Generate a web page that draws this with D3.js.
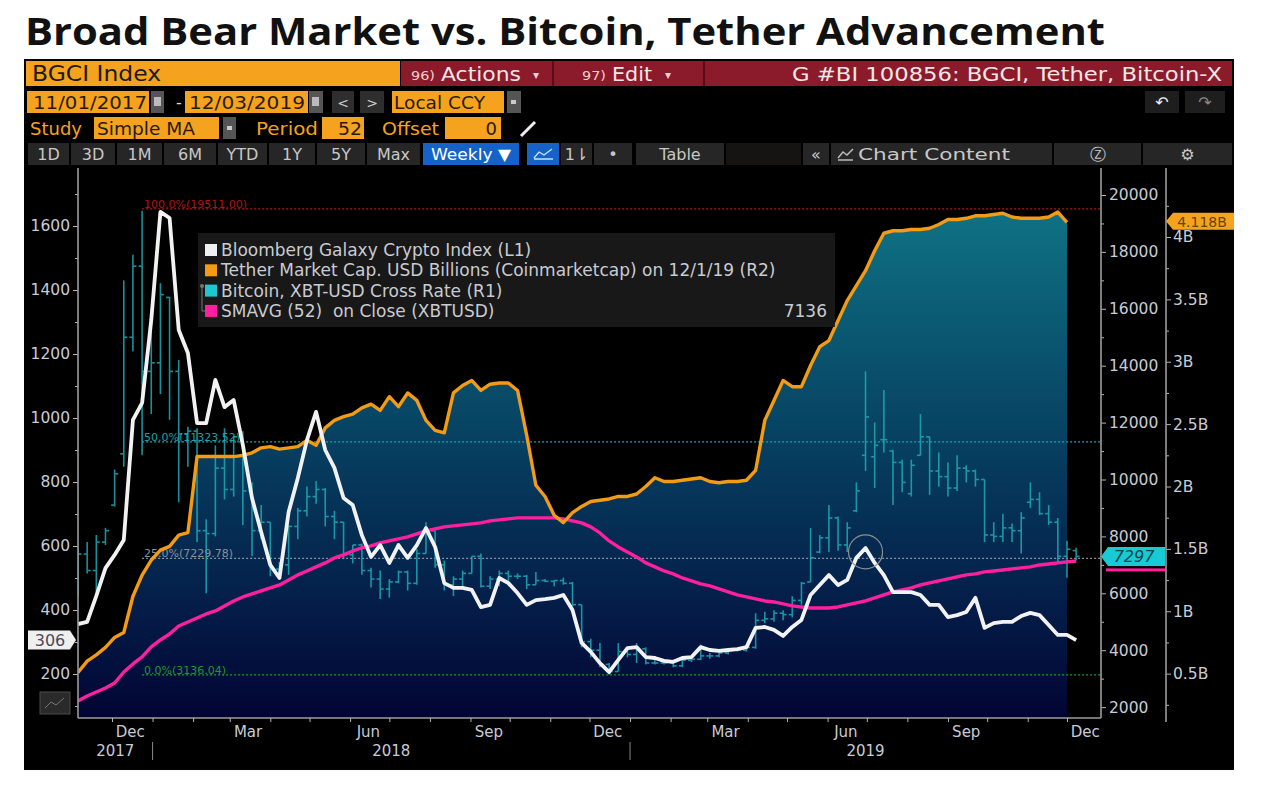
<!DOCTYPE html>
<html><head><meta charset="utf-8">
<script src="https://cdn.jsdelivr.net/npm/d3@7"></script>
<style>body{margin:0;background:#fff;}svg{display:block;}text{white-space:pre;}</style>
</head><body><svg id="c" width="1279" height="799"></svg>
<script>
// ---------------- DATA ----------------
const titleText = "Broad Bear Market vs. Bitcoin, Tether Advancement";
const firstWeek = "2017-11-05";           // weekly observations, one per week
const bgci = [356,363,444,531,572,619,994,1047,1306,1644,1625,1275,1203,984,984,1119,1034,1056,916,750,
  644,541,500,706,812,931,1019,900,844,750,728,634,566,603,547,603,563,603,656,597,
  484,469,469,463,409,416,500,484,453,416,431,434,438,447,400,297,269,234,206,244,
  281,284,253,250,241,238,250,253,284,275,272,275,278,284,344,347,338,319,347,369,
  447,478,509,478,494,563,594,547,509,456,456,456,447,416,416,378,384,394,438,344,
  359,363,363,381,391,384,353,322,322,306];
const tether = [0.51,0.60,0.65,0.71,0.79,0.83,1.12,1.29,1.41,1.49,1.52,1.61,1.63,2.24,2.24,2.24,2.24,2.24,2.25,2.27,
  2.31,2.32,2.30,2.31,2.32,2.37,2.33,2.47,2.53,2.56,2.58,2.63,2.66,2.61,2.72,2.64,2.75,2.69,2.53,2.45,
  2.43,2.75,2.81,2.85,2.77,2.82,2.83,2.83,2.77,2.41,2.01,1.92,1.77,1.71,1.79,1.84,1.88,1.89,1.90,1.92,
  1.92,1.94,2.00,2.07,2.04,2.04,2.05,2.06,2.07,2.04,2.03,2.04,2.04,2.05,2.13,2.53,2.69,2.85,2.80,2.80,
  2.97,3.12,3.17,3.33,3.49,3.61,3.73,3.89,4.03,4.05,4.05,4.06,4.06,4.07,4.10,4.14,4.14,4.15,4.17,4.17,
  4.18,4.19,4.16,4.15,4.15,4.15,4.16,4.20,4.118];
const btcOpen = [6130,7380,6800,7800,9100,10900,15000,17500,13800,14100,16400,13800,11600,11700,8200,8100,10400,9650,11500,9600,
  8200,8500,6850,7000,8350,8900,9400,9650,8700,8500,7350,7700,6800,6500,6150,6400,6750,6350,7400,8200,
  7000,6300,6500,6700,7300,6250,6500,6700,6600,6600,6300,6450,6420,6450,6350,5600,4300,4000,3500,3250,
  3950,3850,4050,3550,3550,3550,3450,3650,3680,3800,3800,3900,4000,4000,4100,5050,5100,5300,5250,5750,
  6400,7450,7950,8650,7700,8900,10850,10800,11400,11000,10600,9500,10850,11500,10300,10100,9700,10400,10300,10000,
  8050,8000,8300,8200,9200,9300,8800,8500,7300,7500];
const btcHigh = [7600,7800,8050,8300,10350,17000,17900,19450,16000,16900,16420,14200,11850,11800,8600,11200,11800,11500,11700,9900,
  9100,8500,7100,8400,9000,9750,9950,9700,8900,8500,7700,7750,6900,6800,6500,6800,6800,7550,8500,8200,
  7150,6600,6800,7300,7400,6600,6800,6800,6700,6650,6750,6500,6450,6550,6400,5600,4400,4250,3550,4250,
  4100,4250,4100,3800,3650,3600,3700,3700,4200,3900,3950,4050,4050,4150,5300,5350,5400,5400,5900,6400,
  8300,8050,9100,8700,8500,9900,13800,12000,13150,11050,10700,10700,12300,11500,10950,10600,10850,10500,10350,10000,
  8500,8800,8450,8850,9900,9550,9100,8650,7850,7600];
const btcLow = [5900,6700,6050,7700,9050,10450,14500,10850,12300,13000,12100,9200,10450,7800,6000,8000,9300,9400,8400,7300,
  7900,6600,6500,6650,7900,8700,9150,8350,7900,7200,7050,6650,6200,5800,5850,6350,6100,6300,7400,6900,
  6100,5900,6250,6700,6200,6150,6250,6400,6500,6150,6300,6400,6250,6300,5550,4100,3750,3400,3150,3250,
  3750,3550,3500,3500,3500,3400,3400,3580,3650,3700,3750,3850,3950,3950,4050,4950,5000,5050,5150,5600,
  6400,7400,7450,7500,7450,8850,10300,9700,10950,9100,9550,9400,10850,9460,9750,9400,9600,9900,9750,7800,
  7800,7800,7800,7400,9000,8750,8400,7100,6550,7150];
const btcClose = [7380,6800,7800,8200,10200,15000,17500,13800,14100,16500,13800,11600,11700,8200,8100,10400,9650,11500,9600,8200,
  8500,6850,7000,8350,8900,9400,9650,8700,8500,7350,7700,6800,6500,6150,6400,6750,6350,7400,8200,7000,
  6300,6500,6700,7300,6250,6500,6700,6600,6600,6300,6450,6420,6450,6350,5600,4300,4000,3500,3250,3950,
  3850,4050,3550,3550,3550,3450,3650,3680,3800,3800,3900,4000,4000,4100,5050,5100,5300,5250,5750,6350,
  7250,7950,8650,7700,8300,9600,12200,11200,11400,10600,9900,10500,11500,10300,10100,9700,10400,10300,10000,8050,
  8000,8300,8200,8650,9300,8800,8500,7300,7550,7297];
const sma52 = [2215,2391,2532,2672,2848,3235,3516,3762,4114,4360,4571,4852,4993,5134,5274,5380,5556,5731,5872,5977,
  6083,6188,6294,6470,6646,6786,6927,7068,7243,7349,7489,7595,7665,7771,7841,7911,7982,8087,8193,8263,
  8333,8368,8404,8439,8474,8544,8579,8615,8650,8650,8650,8650,8650,8615,8544,8474,8333,8122,7841,7630,
  7454,7278,7068,6927,6786,6681,6540,6435,6329,6259,6153,6048,5942,5872,5802,5731,5696,5626,5556,5520,
  5485,5485,5485,5520,5591,5661,5731,5837,5942,6048,6118,6188,6294,6364,6435,6505,6575,6646,6681,6751,
  6786,6821,6857,6892,6927,6997,7032,7068,7103,7136];
const fibLevels = [{p:"100.0%", v:19511.00, c:"#b01515"},{p:"50.0%", v:11323.52, c:"#1aa3ad"},
                   {p:"25.0%", v:7229.78, c:"#8a9099"},{p:"0.0%", v:3136.04, c:"#1c9a2c"}];
const fibStartWeek = 7;
const circleWeek = 86;
const leftTicks = [200,400,600,800,1000,1200,1400,1600];
const leftMinor = [100,300,500,700,900,1100,1300,1500,1700];
const r1Ticks = [2000,4000,6000,8000,10000,12000,14000,16000,18000,20000];
const r1Minor = [3000,5000,7000,9000,11000,13000,15000,17000,19000];
const r2Ticks = [0.5,1,1.5,2,2.5,3,3.5,4];
const r2Labels = ["0.5B","1B","1.5B","2B","2.5B","3B","3.5B","4B"];
const r2Minor = [0.25,0.75,1.25,1.75,2.25,2.75,3.25,3.75,4.25];
const quarterMonths = ["2017-12","2018-03","2018-06","2018-09","2018-12","2019-03","2019-06","2019-09","2019-12"];
const monthNames = ["Dec","Mar","Jun","Sep","Dec","Mar","Jun","Sep","Dec"];
const yearLabels = ["2017","2018","2019"];
const legendItems = [
  {t:"Bloomberg Galaxy Crypto Index (L1)", c:"#efefef", v:""},
  {t:"Tether Market Cap. USD Billions (Coinmarketcap) on 12/1/19 (R2)", c:"#f39a16", v:""},
  {t:"Bitcoin, XBT-USD Cross Rate (R1)", c:"#1ec8d0", v:""},
  {t:"SMAVG (52)  on Close (XBTUSD)", c:"#ff1f9f", v:"7136"}];
const lastBgci = 306, lastBtc = 7297, lastTether = 4.118;

// ---------------- SETUP ----------------
const UI = "'DejaVu Sans','Liberation Sans',sans-serif";
const svg = d3.select("#c");
const parse = d3.timeParse("%Y-%m-%d");
const pm = d3.timeParse("%Y-%m");
const d0 = parse(firstWeek);
const dates = bgci.map((_, i) => d3.timeDay.offset(d0, 7 * i));

const PL = 78, PR = 1101, PT = 168, PB = 718, R2X = 1166;
const x = d3.scaleTime().domain([parse("2017-11-05"), parse("2019-12-27")]).range([PL, PR]);
const yL = d3.scaleLinear().domain([0, 1600]).range([738, 226]);
const yR1 = d3.scaleLinear().domain([0, 20000]).range([764, 195]);
const yR2 = d3.scaleLinear().domain([0, 4]).range([736, 237]);

svg.append("rect").attr("width", 1279).attr("height", 799).attr("fill", "#fff");
svg.append("text").attr("x", 25).attr("y", 45).text(titleText)
  .attr("font-family", "'Open Sans',sans-serif").attr("font-weight", 700).attr("font-size", 38)
  .attr("fill", "#111").attr("textLength", 1080).attr("lengthAdjust", "spacingAndGlyphs");
svg.append("rect").attr("x", 24).attr("y", 59).attr("width", 1210).attr("height", 711).attr("fill", "#000");

function box(x0, y0, w, h, fill) { return svg.append("rect").attr("x", x0).attr("y", y0).attr("width", w).attr("height", h).attr("fill", fill); }
function txt(x0, y0, s, size, fill, anchor, len) {
  const t = svg.append("text").attr("x", x0).attr("y", y0).text(s).attr("font-family", UI)
    .attr("font-size", size).attr("fill", fill).attr("text-anchor", anchor || "start");
  if (len) t.attr("textLength", len).attr("lengthAdjust", "spacingAndGlyphs");
  return t;
}
const OR = "#f5a31f", RED = "#8b1a2b", TAB = "#262626", DK = "#2a1a00";

// Row 1
box(26, 61, 374, 25, OR);
txt(32, 81, "BGCI Index", 21, "#1a1a1a", "start", 129);
box(401, 61, 831, 25, RED);
box(552, 61, 2, 25, "#5a0d18"); box(703, 61, 2, 25, "#5a0d18");
txt(411, 80, "96)", 13, "#f0d0d0", "start", 24); txt(441, 81, "Actions", 19, "#f3e6e6", "start", 80); txt(533, 79, "▾", 12, "#f0d0d0");
txt(582, 80, "97)", 13, "#f0d0d0", "start", 24); txt(612, 81, "Edit", 19, "#f3e6e6", "start", 40); txt(665, 79, "▾", 12, "#f0d0d0");
txt(1222, 81, "G #BI 100856: BGCI, Tether, Bitcoin-X", 19, "#f3e6e6", "end", 430);
// Row 2
box(27, 91, 122, 22, OR); txt(33, 109, "11/01/2017", 18, DK, "start", 114);
box(151, 91, 13, 22, "#555"); box(154, 97, 7, 9, "#bbb");
txt(176, 108, "-", 16, "#ddd");
box(185, 91, 123, 22, OR); txt(189, 109, "12/03/2019", 18, DK, "start", 116);
box(309, 91, 14, 22, "#555"); box(312, 97, 7, 9, "#bbb");
box(332, 91, 22, 22, "#2e2e2e"); txt(343, 108, "<", 14, "#ccc", "middle");
box(360, 91, 24, 22, "#2e2e2e"); txt(372, 108, ">", 14, "#ccc", "middle");
box(392, 91, 112, 22, OR); txt(394, 109, "Local CCY", 18, DK, "start", 91);
box(507, 91, 14, 22, "#555"); box(511, 100, 5, 4, "#ccc");
box(1145, 91, 34, 22, "#1e1e1e"); txt(1162, 108, "↶", 16, "#eee", "middle");
box(1185, 91, 40, 22, "#1e1e1e"); txt(1205, 108, "↷", 16, "#888", "middle");
// Row 3
txt(30, 135, "Study", 18, OR, "start", 52);
box(94, 117, 125, 22, OR); txt(97, 135, "Simple MA", 18, DK, "start", 98);
box(223, 117, 13, 22, "#555"); box(227, 126, 5, 4, "#ccc");
txt(256, 135, "Period", 18, OR, "start", 62);
box(322, 117, 42, 22, OR); txt(362, 135, "52", 18, DK, "end", 24);
txt(382, 135, "Offset", 18, OR, "start", 57);
box(445, 117, 56, 22, OR); txt(497, 135, "0", 18, DK, "end");
svg.append("line").attr("x1", 521).attr("y1", 136).attr("x2", 535).attr("y2", 122).attr("stroke", "#eee").attr("stroke-width", 3);
// Row 4 tabs
const tabs = [[28,41,"1D"],[71,44,"3D"],[117,45,"1M"],[164,52,"6M"],[218,49,"YTD"],[269,46,"1Y"],[317,48,"5Y"],[367,53,"Max"],
  [561,31,"1⇂"],[594,38,"•"],[636,88,"Table"],[803,26,"«"],[1054,87,"Ⓩ"],[1143,89,"⚙"]];
tabs.forEach(t => { box(t[0], 143, t[1], 22, TAB); txt(t[0] + t[1] / 2, 160, t[2], 16, "#c8c8c8", "middle"); });
box(726, 143, 75, 22, "#161412");
box(831, 143, 221, 22, TAB); txt(858, 160, "Chart Content", 16, "#c8c8c8", "start", 152);
svg.append("path").attr("d", "M838,158 L843,152 L847,155 L853,149 M838,160 H853").attr("stroke", "#bbb").attr("fill", "none").attr("stroke-width", 1.5);
box(423, 143, 96, 22, "#1563c8"); txt(471, 160, "Weekly ▼", 16, "#fff", "middle", 80);
box(527, 143, 32, 22, "#1563c8");
svg.append("path").attr("d", "M534,158 L539,152 L544,155 L552,149 M534,159 H553").attr("stroke", "#cfe0ff").attr("fill", "none").attr("stroke-width", 1.3);

// ---------------- PLOT ----------------
const defs = svg.append("defs");
defs.append("clipPath").attr("id", "clip").append("rect").attr("x", PL).attr("y", PT).attr("width", PR - PL).attr("height", PB - PT);
const grad = defs.append("linearGradient").attr("id", "ag").attr("gradientUnits", "userSpaceOnUse")
  .attr("x1", 0).attr("x2", 0).attr("y1", 200).attr("y2", PB);
[[0, "#0f7486"], [0.45, "#074262"], [0.75, "#04214b"], [1, "#020433"]].forEach(s =>
  grad.append("stop").attr("offset", s[0]).attr("stop-color", s[1]));

const plot = svg.append("g").attr("clip-path", "url(#clip)");
const tData = tether.map((v, i) => ({ d: dates[i], v }));
plot.append("path").datum(tData).attr("fill", "url(#ag)")
  .attr("d", d3.area().x(p => x(p.d)).y0(PB).y1(p => yR2(p.v)));

// Fibonacci lines
fibLevels.forEach(f => {
  const yy = yR1(f.v);
  plot.append("line").attr("x1", x(dates[fibStartWeek])).attr("x2", PR).attr("y1", yy).attr("y2", yy)
    .attr("stroke", f.c).attr("stroke-width", 1.2).attr("stroke-dasharray", "2,2");
  plot.append("text").attr("x", x(dates[fibStartWeek]) + 2).attr("y", yy - 1)
    .text(`${f.p}(${f.v.toFixed(2)})`).attr("font-family", UI).attr("font-size", 11).attr("fill", f.c);
});

// Bitcoin OHLC bars
const bars = plot.append("g").attr("stroke", "#1eaab5").attr("stroke-width", 1.6).attr("opacity", 0.85);
dates.forEach((d, i) => {
  const cx = x(d);
  bars.append("line").attr("x1", cx).attr("x2", cx).attr("y1", yR1(btcHigh[i])).attr("y2", yR1(btcLow[i]));
  bars.append("line").attr("x1", cx - 3.5).attr("x2", cx).attr("y1", yR1(btcOpen[i])).attr("y2", yR1(btcOpen[i]));
  bars.append("line").attr("x1", cx).attr("x2", cx + 3.5).attr("y1", yR1(btcClose[i])).attr("y2", yR1(btcClose[i]));
});

const lineOf = (arr, ys) => d3.line().x((v, i) => x(dates[i])).y(v => ys(v))(arr);
plot.append("path").attr("d", lineOf(sma52, yR1)).attr("fill", "none").attr("stroke", "#ff1f9f").attr("stroke-width", 3.4).attr("stroke-linejoin", "round");
plot.append("path").attr("d", lineOf(tether, yR2)).attr("fill", "none").attr("stroke", "#f39a16").attr("stroke-width", 3.4).attr("stroke-linejoin", "round");
plot.append("path").attr("d", lineOf(bgci, yL)).attr("fill", "none").attr("stroke", "#f2f2f2").attr("stroke-width", 3.8).attr("stroke-linejoin", "round");
plot.append("circle").attr("cx", x(dates[circleWeek])).attr("cy", yL(bgci[circleWeek]) + 4).attr("r", 17)
  .attr("fill", "none").attr("stroke", "#8f8f8f").attr("stroke-width", 1.2);

// Legend
box(198, 233, 637, 94, "#1b1b1b").attr("opacity", 0.88);
legendItems.forEach((it, k) => {
  const cy = 250 + k * 20.3;
  box(205, cy - 6, 12, 12, it.c);
  txt(221, cy + 6, it.t, 17, "#c9cbd2");
  if (it.v) txt(827, cy + 6, it.v, 17, "#c9cbd2", "end");
});
svg.append("path").attr("d", "M202,287 V311 H205").attr("stroke", "#777").attr("fill", "none");
svg.append("circle").attr("cx", 202).attr("cy", 286).attr("r", 2).attr("fill", "#777");

// ---------------- AXES ----------------
const AX = "#9c9c9c", LBL = "#c8cbd6";
function styleAxis(g) {
  g.select(".domain").remove();
  g.selectAll(".tick line").attr("stroke", "#b5b5b5");
  g.selectAll(".tick text").attr("fill", LBL).attr("font-family", UI).attr("font-size", 15.5);
}
svg.append("g").attr("transform", `translate(${PL},0)`)
  .call(d3.axisLeft(yL).tickValues(leftTicks).tickSize(5).tickPadding(3).tickFormat(d3.format("d"))).call(styleAxis);
svg.append("g").attr("transform", `translate(${PL},0)`)
  .call(d3.axisLeft(yL).tickValues(leftMinor).tickSize(3).tickFormat("")).call(styleAxis);
svg.append("g").attr("transform", `translate(${PR},0)`)
  .call(d3.axisRight(yR1).tickValues(r1Ticks).tickSize(5).tickPadding(3).tickFormat(d3.format("d"))).call(styleAxis);
svg.append("g").attr("transform", `translate(${PR},0)`)
  .call(d3.axisRight(yR1).tickValues(r1Minor).tickSize(3).tickFormat("")).call(styleAxis);
svg.append("g").attr("transform", `translate(${R2X},0)`)
  .call(d3.axisRight(yR2).tickValues(r2Ticks).tickSize(5).tickPadding(2).tickFormat((d, i) => r2Labels[i])).call(styleAxis);
svg.append("g").attr("transform", `translate(${R2X},0)`)
  .call(d3.axisRight(yR2).tickValues(r2Minor).tickSize(3).tickFormat("")).call(styleAxis);
[[PL, PT, PL, PB], [PR, PT, PR, PB], [R2X, PT, R2X, PB + 4], [PL, PB, PR, PB]].forEach(l =>
  svg.append("line").attr("x1", l[0]).attr("y1", l[1]).attr("x2", l[2]).attr("y2", l[3]).attr("stroke", AX).attr("stroke-width", 1.6));

// bottom axis
const gB = svg.append("g").attr("transform", `translate(0,${PB})`)
  .call(d3.axisBottom(x).ticks(d3.timeMonth.every(1)).tickSize(4).tickFormat(""));
gB.call(styleAxis);
quarterMonths.forEach((m, k) => {
  txt(x(d3.timeDay.offset(pm(m), 14)), 737, monthNames[k], 15, LBL, "middle");
});
const y18 = x(parse("2018-01-01")), y19 = x(parse("2019-01-01"));
[[PL, y18], [y18, y19], [y19, PR]].forEach((s, k) => txt((s[0] + s[1]) / 2, 756, yearLabels[k], 15, LBL, "middle"));
[y18, y19].forEach(v => svg.append("line").attr("x1", v).attr("x2", v).attr("y1", 742).attr("y2", 760).attr("stroke", "#888"));

// small chart icon bottom-left
box(40, 692, 30, 22, "#2a2a2a").attr("stroke", "#4a4a4a");
svg.append("path").attr("d", "M45,708 L51,702 L56,705 L64,698").attr("stroke", "#777").attr("fill", "none");

// ---------------- VALUE TAGS ----------------
const cyL = yL(lastBgci);
svg.append("path").attr("d", `M28,${cyL - 9.5} H70 L76,${cyL} L70,${cyL + 9.5} H28 Z`).attr("fill", "#efefef");
txt(50, cyL + 5.5, String(lastBgci), 16, "#4a4a55", "middle");
const cyB = yR1(lastBtc);
svg.append("path").attr("d", `M${PR},${cyB} L${PR + 7},${cyB - 9.5} H1165 V${cyB + 9.5} H${PR + 7} Z`).attr("fill", "#18cad4");
txt(1134, cyB + 6, String(lastBtc), 16, "#05424a", "middle").attr("font-style", "italic");
box(PR + 5, cyB + 12, 1165 - PR - 5, 3, "#ff1f9f");
const cyT = yR2(lastTether);
svg.append("path").attr("d", `M${R2X},${cyT - 1} L${R2X + 7},${cyT - 9.5} H1234 V${cyT + 7.5} H${R2X + 7} Z`).attr("fill", OR);
txt(1202, cyT + 4.5, lastTether.toFixed(3) + "B", 14, "#6a4200", "middle");
</script></body></html>
